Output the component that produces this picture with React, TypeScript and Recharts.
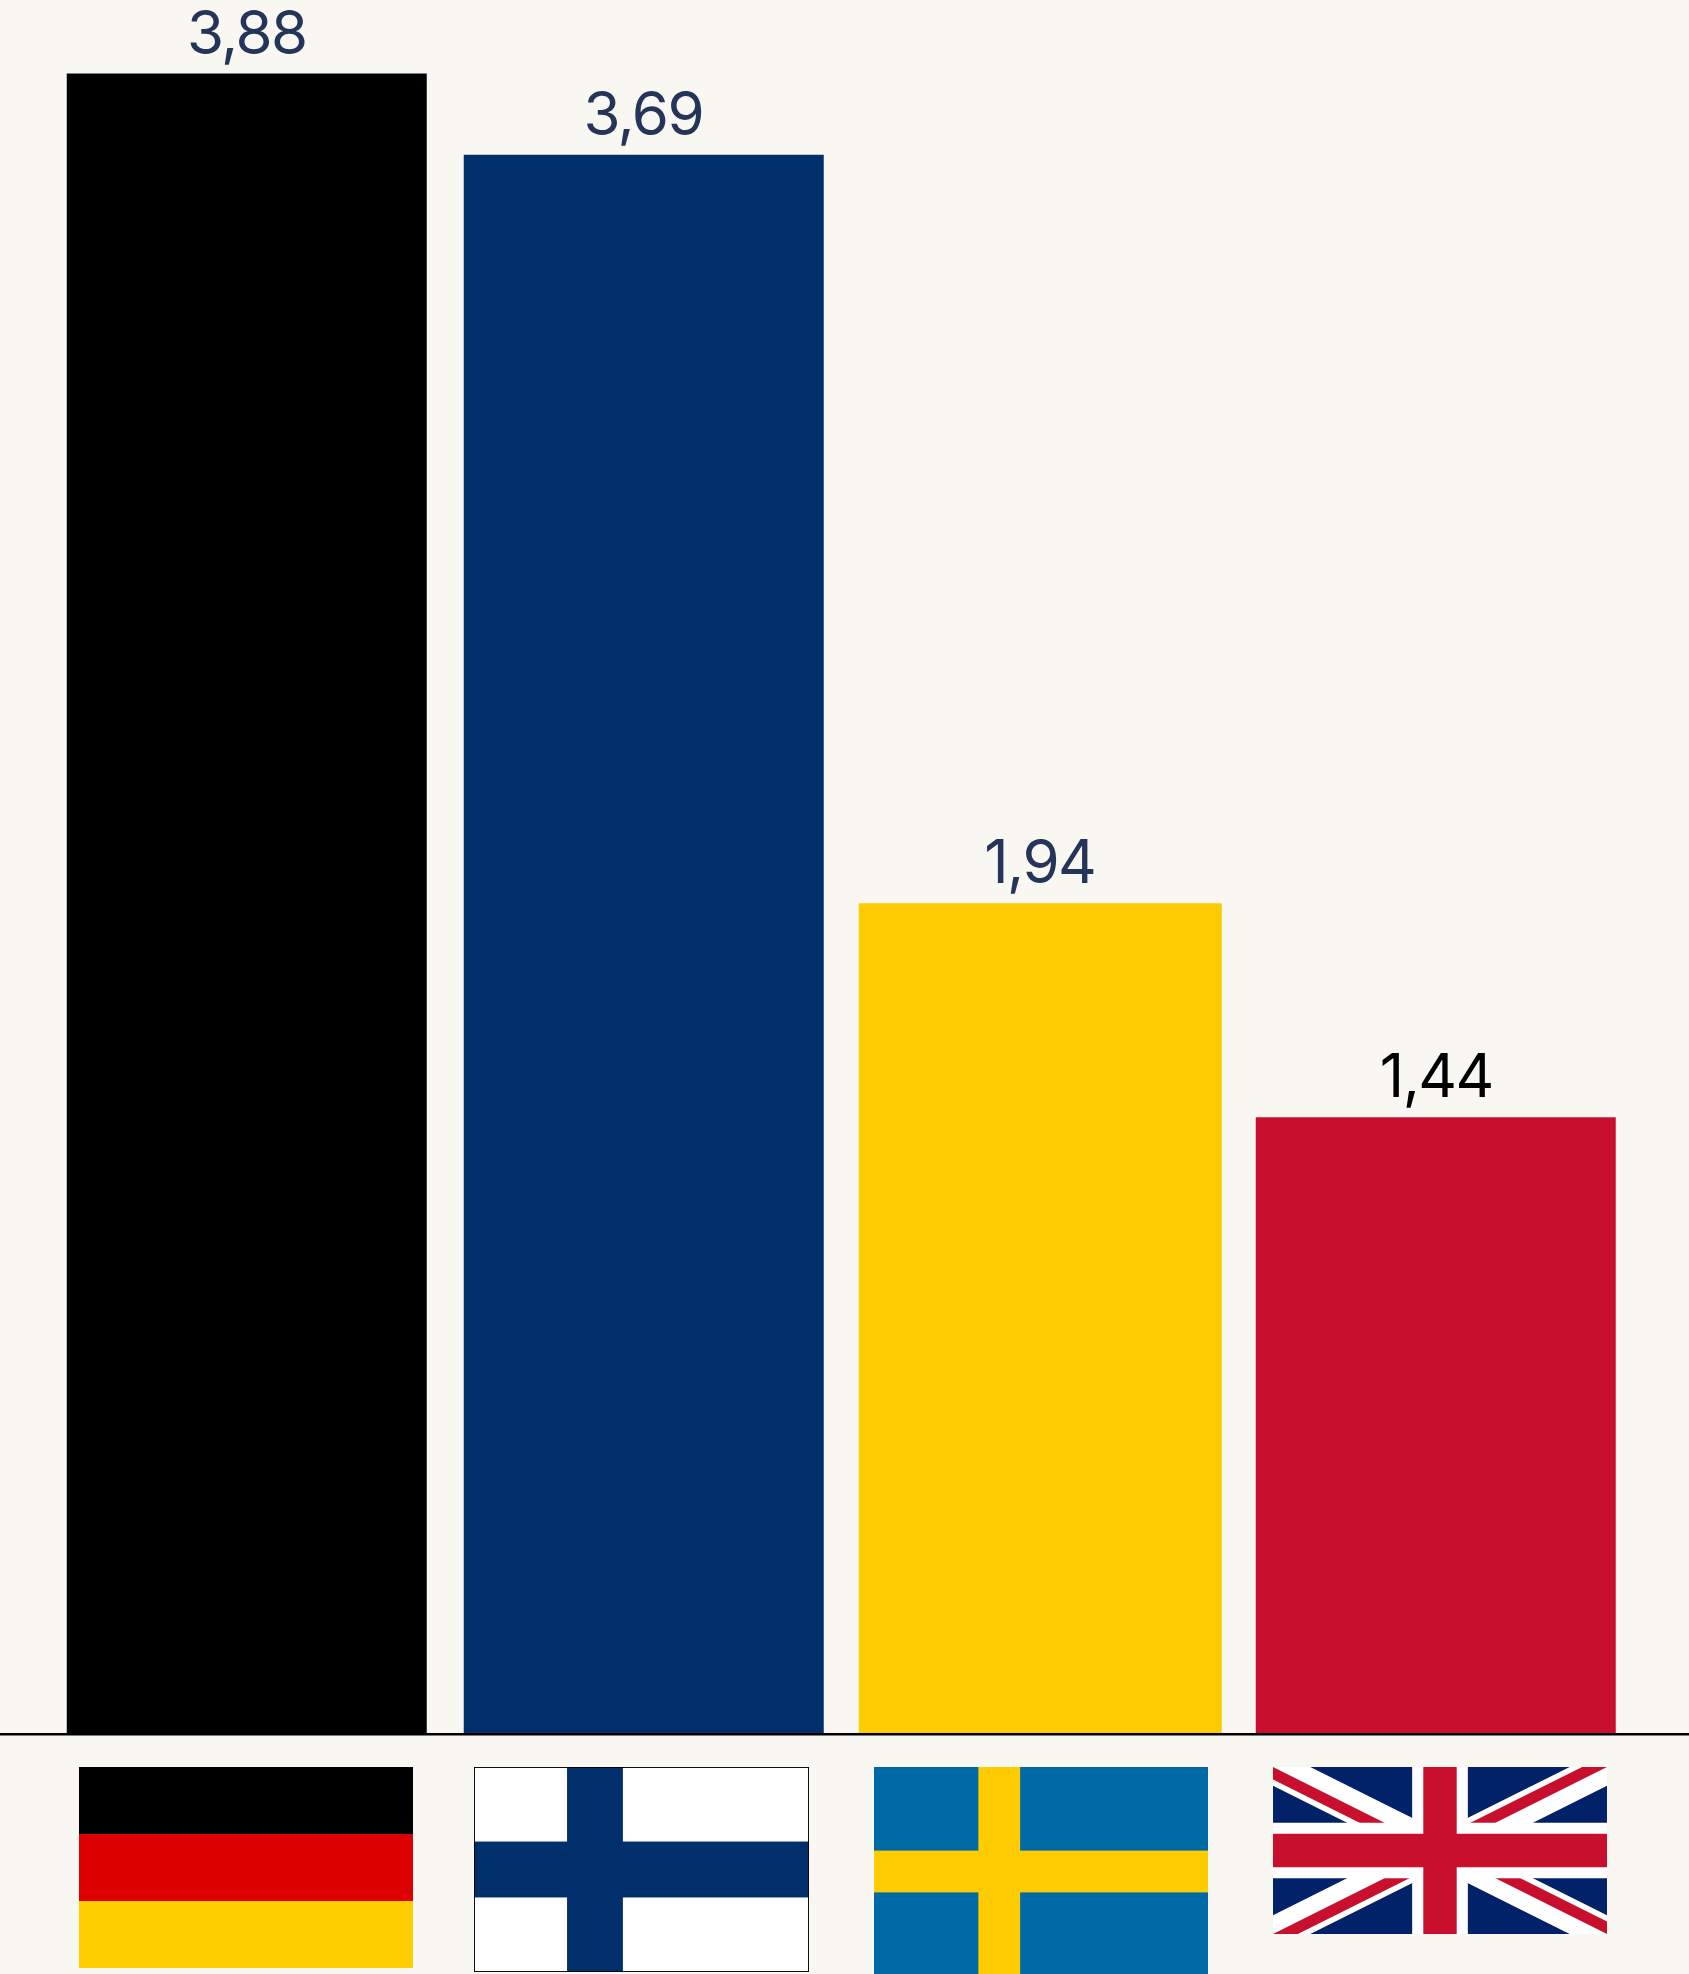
import { BarChart, Bar, XAxis, YAxis, Cell, LabelList, Rectangle } from "recharts";

const countries = ["DE", "FI", "SE", "UK"];
const values = [3.88, 3.69, 1.94, 1.44];
const barColors = ["#000000", "#002F6C", "#FDCB00", "#C8102E"];
const labelColors = ["#25355A", "#25355A", "#25355A", "#000000"];

const chartData = countries.map((country, i) => ({ country, value: values[i] }));

const BACKGROUND = "#F8F7F2";
const FLAG_WIDTH = 334;
const FLAG_TOP = 32;

const GermanFlag = ({ x, y }: { x: number; y: number }) => (
  <g transform={`translate(${x},${y})`}>
    <rect width={FLAG_WIDTH} height={67} fill="#000000" />
    <rect y={67} width={FLAG_WIDTH} height={67} fill="#DD0000" />
    <rect y={134} width={FLAG_WIDTH} height={67} fill="#FFCE00" />
  </g>
);

const FinnishFlag = ({ x, y }: { x: number; y: number }) => (
  <svg x={x} y={y} width={335} height={205} viewBox="0 0 18 11" preserveAspectRatio="none">
    <rect width={18} height={11} fill="#FFFFFF" />
    <rect x={5} width={3} height={11} fill="#002F6C" />
    <rect y={4} width={18} height={3} fill="#002F6C" />
    <rect width={18} height={11} fill="none" stroke="#000000" strokeWidth={0.1} />
  </svg>
);

const SwedishFlag = ({ x, y }: { x: number; y: number }) => (
  <svg x={x} y={y} width={FLAG_WIDTH} height={209} viewBox="0 0 16 10" preserveAspectRatio="none">
    <rect width={16} height={10} fill="#006AA7" />
    <rect x={5} width={2} height={10} fill="#FECC00" />
    <rect y={4} width={16} height={2} fill="#FECC00" />
  </svg>
);

const BritishFlag = ({ x, y }: { x: number; y: number }) => (
  <svg x={x} y={y} width={FLAG_WIDTH} height={167} viewBox="0 0 60 30">
    <clipPath id="uk-diagonals">
      <path d="M30,15 h30 v15 z v15 h-30 z h-30 v-15 z v-15 h30 z" />
    </clipPath>
    <rect width={60} height={30} fill="#012169" />
    <path d="M0,0 L60,30 M60,0 L0,30" stroke="#FFFFFF" strokeWidth={6} />
    <path d="M0,0 L60,30 M60,0 L0,30" stroke="#C8102E" strokeWidth={4} clipPath="url(#uk-diagonals)" />
    <path d="M30,0 v30 M0,15 h60" stroke="#FFFFFF" strokeWidth={10} />
    <path d="M30,0 v30 M0,15 h60" stroke="#C8102E" strokeWidth={6} />
  </svg>
);

// flags sit under the bars in place of text ticks, each nudged a little off the band centre
const FlagTick = ({ x, y, payload }: any) => {
  const top = y + FLAG_TOP;
  switch (payload.value) {
    case "DE":
      return <GermanFlag x={x - 168} y={top} />;
    case "FI":
      return <FinnishFlag x={x - 169.5} y={top} />;
    case "SE":
      return <SwedishFlag x={x - 166} y={top} />;
    default:
      return <BritishFlag x={x - 163.5} y={top} />;
  }
};

// bars are not quite evenly spaced and the yellow one runs a bit wider
const barShift = [0, 0.5, -1, -0.5];
const barGrow = [0, 0, 3, 0];

const ShiftedBar = ({ x, width, index, ...rest }: any) => (
  <Rectangle {...rest} x={x + barShift[index]} width={width + barGrow[index]} />
);

const ValueLabel = ({ x, y, width, value, index }: any) => (
  <text
    x={x + width / 2}
    y={y - 20}
    textAnchor="middle"
    fontFamily="Inter, sans-serif"
    fontSize={60}
    fontWeight={400}
    letterSpacing={-1.6}
    fill={labelColors[index]}
  >
    {String(value).replace(".", ",")}
  </text>
);

export default function App() {
  return (
    <div style={{ position: "absolute", left: 0, top: 0, width: 1689, height: 1974, background: BACKGROUND, overflow: "hidden" }}>
      <BarChart
        width={1689}
        height={1974}
        data={chartData}
        margin={{ top: 0, right: 0, bottom: 0, left: 0 }}
        barCategoryGap={0}
      >
        <YAxis hide domain={[0, 4.052]} />
        <XAxis
          dataKey="country"
          height={241}
          padding={{ left: 48.75, right: 54.25 }}
          interval={0}
          tickLine={false}
          tickSize={0}
          tick={<FlagTick />}
          axisLine={{ stroke: "#000000", strokeWidth: 2.4, transform: "translate(0,1.2)" }}
        />
        <Bar dataKey="value" barSize={360} isAnimationActive={false} shape={<ShiftedBar />}>
          {chartData.map((d, i) => (
            <Cell key={d.country} fill={barColors[i]} />
          ))}
          <LabelList dataKey="value" content={<ValueLabel />} />
        </Bar>
      </BarChart>
    </div>
  );
}
